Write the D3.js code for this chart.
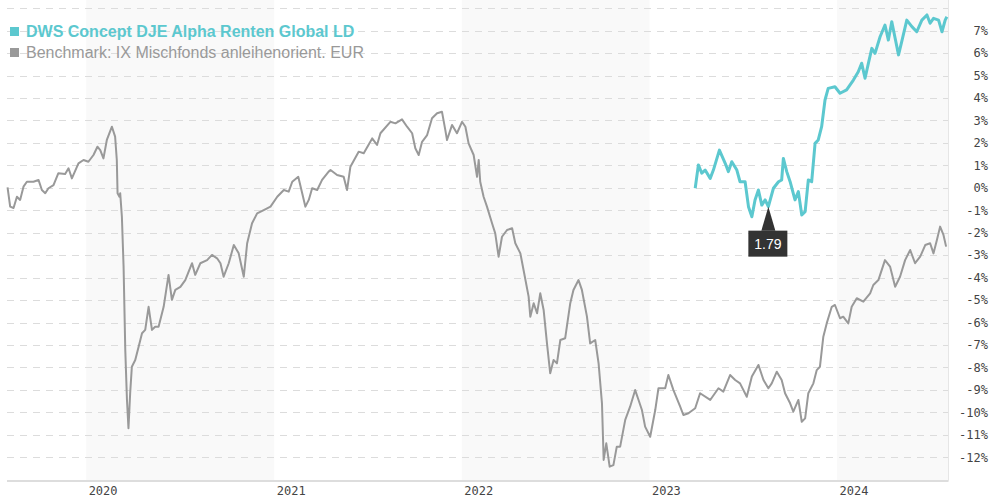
<!DOCTYPE html>
<html><head><meta charset="utf-8">
<script src="https://cdn.jsdelivr.net/npm/d3@7/dist/d3.min.js"></script>
<style>
html,body{margin:0;padding:0;background:#fff;}
svg{display:block;}
</style></head>
<body>
<svg id="chart" width="990" height="500"></svg>
<script>
// Decimal-year dates and % values
const benchDates = [2019.581,2019.595,2019.613,2019.631,2019.648,2019.666,2019.684,2019.719,2019.746,2019.764,2019.782,2019.799,2019.826,2019.852,2019.888,2019.906,2019.924,2019.959,2019.986,2020.012,2020.039,2020.060,2020.075,2020.092,2020.110,2020.137,2020.154,2020.163,2020.167,2020.177,2020.181,2020.190,2020.199,2020.208,2020.217,2020.225,2020.234,2020.243,2020.261,2020.279,2020.297,2020.314,2020.332,2020.350,2020.367,2020.385,2020.412,2020.438,2020.456,2020.474,2020.501,2020.527,2020.563,2020.580,2020.607,2020.643,2020.669,2020.696,2020.714,2020.731,2020.758,2020.785,2020.811,2020.838,2020.856,2020.882,2020.909,2020.944,2020.980,2021.016,2021.051,2021.077,2021.096,2021.128,2021.149,2021.166,2021.184,2021.202,2021.229,2021.255,2021.290,2021.300,2021.335,2021.370,2021.388,2021.406,2021.450,2021.477,2021.522,2021.548,2021.566,2021.619,2021.646,2021.681,2021.708,2021.735,2021.752,2021.770,2021.788,2021.815,2021.841,2021.868,2021.894,2021.912,2021.921,2021.948,2021.974,2022.001,2022.019,2022.036,2022.063,2022.081,2022.090,2022.098,2022.116,2022.134,2022.161,2022.178,2022.196,2022.214,2022.241,2022.268,2022.285,2022.312,2022.329,2022.356,2022.365,2022.383,2022.401,2022.418,2022.436,2022.454,2022.471,2022.489,2022.507,2022.525,2022.551,2022.578,2022.595,2022.622,2022.640,2022.667,2022.684,2022.711,2022.729,2022.747,2022.756,2022.770,2022.788,2022.808,2022.826,2022.844,2022.871,2022.897,2022.924,2022.942,2022.960,2022.977,2023.004,2023.031,2023.048,2023.084,2023.101,2023.128,2023.164,2023.181,2023.208,2023.244,2023.270,2023.324,2023.368,2023.394,2023.430,2023.457,2023.483,2023.519,2023.546,2023.581,2023.608,2023.634,2023.652,2023.679,2023.705,2023.723,2023.750,2023.767,2023.794,2023.812,2023.830,2023.847,2023.874,2023.892,2023.909,2023.927,2023.945,2023.972,2023.989,2024.016,2024.033,2024.060,2024.078,2024.105,2024.140,2024.176,2024.193,2024.220,2024.255,2024.282,2024.309,2024.335,2024.362,2024.389,2024.415,2024.442,2024.469,2024.495,2024.513,2024.531,2024.548,2024.566,2024.580];
const benchValues = [0.02,-0.84,-0.90,-0.40,-0.54,0.05,0.27,0.27,0.35,-0.10,-0.24,-0.02,0.12,0.65,0.61,0.87,0.42,1.09,1.24,1.16,1.46,1.83,1.68,1.31,2.13,2.72,2.28,1.24,-0.24,-0.40,-0.24,-1.29,-3.51,-7.22,-9.45,-10.71,-9.15,-7.97,-7.67,-7.08,-6.48,-6.33,-5.30,-6.33,-6.19,-6.19,-5.30,-3.88,-4.99,-4.55,-4.41,-4.11,-3.36,-3.88,-3.36,-3.22,-2.99,-3.14,-3.36,-3.96,-3.36,-2.55,-2.92,-3.96,-2.47,-1.58,-1.14,-0.99,-0.84,-0.40,-0.10,-0.17,0.27,0.49,-0.24,-0.84,-0.54,-0.02,-0.10,0.35,0.72,0.79,0.57,0.49,-0.10,0.94,1.61,1.54,2.20,1.91,2.43,2.94,2.87,3.05,2.72,2.43,1.76,1.46,2.05,2.35,3.10,3.32,3.39,2.57,2.13,2.80,2.43,2.94,2.72,1.98,1.46,0.49,1.24,0.27,-0.40,-0.84,-1.58,-2.03,-3.07,-2.18,-1.88,-1.80,-2.47,-2.92,-3.66,-4.85,-5.74,-5.14,-5.59,-4.70,-5.44,-6.94,-8.26,-7.67,-7.82,-6.78,-6.70,-5.14,-4.55,-4.11,-4.55,-5.74,-6.93,-6.78,-7.82,-9.60,-12.12,-11.38,-12.42,-12.35,-11.53,-11.53,-10.34,-9.75,-9.01,-9.45,-9.90,-10.64,-11.09,-9.90,-8.93,-8.93,-8.34,-9.01,-9.75,-10.12,-10.04,-9.82,-9.15,-9.45,-8.93,-9.08,-8.34,-8.56,-8.71,-9.31,-8.41,-7.89,-8.56,-8.93,-8.71,-8.19,-8.56,-9.15,-9.60,-9.97,-9.45,-10.42,-10.27,-9.15,-8.71,-8.12,-7.97,-6.63,-6.04,-5.30,-5.22,-5.81,-5.74,-6.04,-5.30,-4.92,-5.07,-4.70,-4.33,-4.11,-3.22,-3.51,-4.41,-3.96,-3.22,-2.77,-3.36,-3.07,-2.55,-2.47,-2.92,-2.33,-1.73,-2.10,-2.62];

const fundDates = [2023.244,2023.261,2023.279,2023.297,2023.324,2023.341,2023.373,2023.404,2023.421,2023.439,2023.466,2023.483,2023.510,2023.528,2023.546,2023.563,2023.581,2023.599,2023.617,2023.634,2023.661,2023.688,2023.705,2023.714,2023.732,2023.750,2023.776,2023.794,2023.812,2023.830,2023.847,2023.865,2023.883,2023.900,2023.918,2023.936,2023.953,2023.989,2024.016,2024.051,2024.087,2024.113,2024.131,2024.149,2024.167,2024.185,2024.202,2024.229,2024.255,2024.273,2024.291,2024.309,2024.327,2024.344,2024.371,2024.398,2024.424,2024.451,2024.478,2024.495,2024.513,2024.540,2024.558,2024.575,2024.584];
const fundValues = [-0.02,1.02,0.65,0.79,0.42,0.79,1.68,1.09,0.72,1.16,0.79,0.27,0.27,-0.84,-1.29,-0.54,-0.10,-0.77,-0.54,-0.84,-0.02,0.27,0.35,1.31,0.72,0.27,-0.54,-0.17,-1.21,-1.06,0.35,0.27,1.98,2.13,2.72,3.91,4.43,4.50,4.21,4.36,4.80,5.17,5.55,4.88,5.55,6.21,5.99,6.73,7.25,6.58,7.40,6.66,5.92,6.51,7.47,7.18,6.95,7.47,7.70,7.33,7.55,7.47,6.95,7.47,7.62];

const seriesNames = ["DWS Concept DJE Alpha Renten Global LD", "Benchmark: IX Mischfonds anleihenorient. EUR"];
const yTicks = [-12,-11,-10,-9,-8,-7,-6,-5,-4,-3,-2,-1,0,1,2,3,4,5,6,7];
const gridTicks = [-12,-11,-10,-9,-8,-7,-6,-5,-4,-3,-2,-1,0,1,2,3,4,5,6,7,8];
const yearTicks = [2020, 2021, 2022, 2023, 2024];
const tooltipIndex = 19;
const tooltipLabel = "1.79";

(function(){
function decToDate(t){
  const yr = Math.floor(t);
  const s = Date.UTC(yr,0,1), e = Date.UTC(yr+1,0,1);
  return new Date(s + (t-yr)*(e-s));
}
const bench = benchDates.map((d,i)=>({date:decToDate(d), value:benchValues[i]}));
const fund = fundDates.map((d,i)=>({date:decToDate(d), value:fundValues[i]}));

const TEAL = "#5cc8cf", GRAY = "#999999";
const svg = d3.select("#chart");
const pLeft = 7, pRight = 947, frameRight = 948.5, pTop = 0, pBottom = 481;

const x = d3.scaleUtc()
  .domain([new Date(Date.UTC(2019,6,31)), new Date(Date.UTC(2024,7,2))])
  .range([pLeft, pRight]);
const y = d3.scaleLinear().domain([-13.06, 8.365]).range([pBottom, pTop]);

// alternating year bands
const bandYears = [2020, 2022, 2024];
svg.append("g").selectAll("rect").data(bandYears).join("rect")
  .attr("x", d => x(new Date(Date.UTC(d,0,1))))
  .attr("y", pTop)
  .attr("width", d => Math.min(x(new Date(Date.UTC(d+1,0,1))), frameRight) - x(new Date(Date.UTC(d,0,1))))
  .attr("height", pBottom - pTop)
  .attr("fill", "#f9f9f9");

// gridlines
svg.append("g").selectAll("line").data(gridTicks).join("line")
  .attr("x1", pLeft).attr("x2", frameRight)
  .attr("y1", d => Math.round(y(d)) + 0.5).attr("y2", d => Math.round(y(d)) + 0.5)
  .attr("stroke", "#dcdcdc").attr("stroke-width", 1)
  .attr("stroke-dasharray", "7,6");

// plot frame
svg.append("line").attr("x1", pLeft).attr("x2", frameRight).attr("y1", pBottom).attr("y2", pBottom)
  .attr("stroke", "#dddddd").attr("stroke-width", 2);
svg.append("line").attr("x1", frameRight).attr("x2", frameRight).attr("y1", pTop).attr("y2", pBottom)
  .attr("stroke", "#e6e6e6").attr("stroke-width", 1);

// legend
const legend = svg.append("g");
[[seriesNames[0], TEAL, "bold", 37], [seriesNames[1], GRAY, "normal", 58]].forEach(([name, col, w, yy]) => {
  legend.append("rect").attr("x", 10).attr("y", yy - 10).attr("width", 9).attr("height", 9).attr("fill", col);
  legend.append("text").attr("x", 26).attr("y", yy)
    .attr("font-family", "'Liberation Sans', Arial, sans-serif")
    .attr("font-size", 16).attr("font-weight", w).attr("fill", col).text(name);
});

// lines
const line = d3.line().x(d => x(d.date)).y(d => y(d.value));
svg.append("path").datum(bench).attr("d", line).attr("fill", "none")
  .attr("stroke", GRAY).attr("stroke-width", 2).attr("stroke-linejoin", "round");
svg.append("path").datum(fund).attr("d", line).attr("fill", "none")
  .attr("stroke", TEAL).attr("stroke-width", 3).attr("stroke-linejoin", "round");

// right axis labels
const yAxis = d3.axisLeft(y).tickValues(yTicks).tickSize(0).tickPadding(0).tickFormat(d => d + "%");
const ya = svg.append("g").attr("transform", "translate(988,0)").call(yAxis);
ya.select(".domain").remove();
ya.selectAll("text").attr("font-family", "'DejaVu Sans Mono', monospace").attr("font-size", 12).attr("fill", "#444");

// bottom axis labels
const xAxis = d3.axisBottom(x).tickValues(yearTicks.map(yv => new Date(Date.UTC(yv,0,1))))
  .tickSize(0).tickPadding(0).tickFormat(d3.utcFormat("%Y"));
const xa = svg.append("g").attr("transform", `translate(0,${pBottom + 5})`).call(xAxis);
xa.select(".domain").remove();
xa.selectAll("text").attr("text-anchor", "start").attr("dx", 2)
  .attr("font-family", "'DejaVu Sans Mono', monospace").attr("font-size", 12).attr("fill", "#444");

// tooltip
const tp = fund[tooltipIndex];
const px = x(tp.date), py = y(tp.value);
const tip = svg.append("g");
tip.append("path").attr("d", `M${px},${py} L${px-7},${py+24} L${px+7},${py+24} Z`).attr("fill", "#333");
tip.append("rect").attr("x", px - 20).attr("y", py + 24).attr("width", 39).attr("height", 26).attr("fill", "#333");
tip.append("text").attr("x", px - 0.5).attr("y", py + 42).attr("text-anchor", "middle")
  .attr("font-family", "'Liberation Sans', Arial, sans-serif").attr("font-size", 14).attr("fill", "#fff").text(tooltipLabel);
})();
</script>
</body></html>
